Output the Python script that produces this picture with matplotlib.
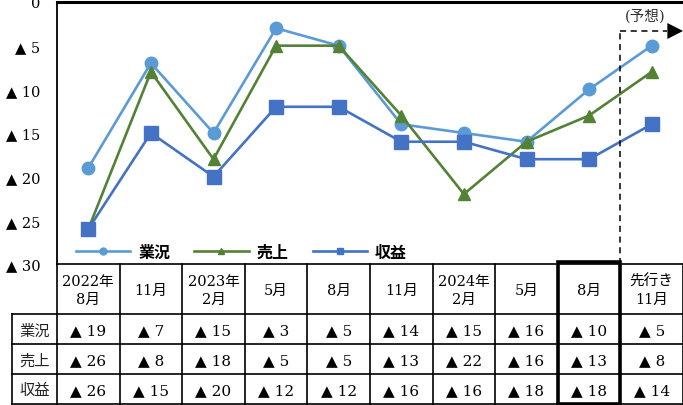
import numpy as np
import matplotlib
matplotlib.use('Agg')
import matplotlib.pyplot as plt
from matplotlib.lines import Line2D

# data
periods = ['2022年\n8月', '11月', '2023年\n2月', '5月', '8月', '11月',
           '2024年\n2月', '5月', '8月', '先行き\n11月']
series_names = ['業況', '売上', '収益']
gyokyo = [19, 7, 15, 3, 5, 14, 15, 16, 10, 5]
uriage = [26, 8, 18, 5, 5, 13, 22, 16, 13, 8]
shueki = [26, 15, 20, 12, 12, 16, 16, 18, 18, 14]
yticks = [0, 5, 10, 15, 20, 25, 30]

colors = ['#5B9BD5', '#548235', '#4472C4']
markers = ['o', '^', 's']
serif = ['DejaVu Serif', 'Noto Sans CJK JP']
sans = ['Noto Sans CJK JP', 'DejaVu Sans']

W, H = 683, 406
fig = plt.figure(figsize=(W / 100, H / 100), dpi=100)

# chart area in pixels
x0, x1, ytop, ybot = 57, 683, 3, 265
ax = fig.add_axes([x0 / W, 1 - ybot / H, (x1 - x0) / W, (ybot - ytop) / H])
x = np.arange(len(periods))
all_series = [gyokyo, uriage, shueki]
for vals, c, m in zip(all_series, colors, markers):
    ax.plot(x, vals, color=c, lw=1.9, marker=m, ms=9 if m != 's' else 9.5,
            zorder=3, clip_on=False)
ax.set_xlim(-0.5, len(periods) - 0.5)
ax.set_ylim(30, 0)
ax.set_yticks(yticks)
ax.set_yticklabels(['0' if v == 0 else '▲ %d' % v for v in yticks],
                   family=serif, fontsize=10.5)
ax.tick_params(axis='y', length=0, pad=12)
ax.set_xticks([])
ax.spines['top'].set_linewidth(2.2)
ax.spines['left'].set_linewidth(1.3)
ax.spines['right'].set_visible(False)
ax.spines['bottom'].set_visible(False)

handles = [Line2D([], [], color=c, lw=1.9, marker=m, ms=5)
           for c, m in zip(colors, markers)]
ax.legend(handles, series_names, loc='center left', ncol=3,
          bbox_to_anchor=(76 / W, 1 - 253 / H), bbox_transform=fig.transFigure,
          frameon=False, borderpad=0, borderaxespad=0, handlelength=3.4,
          handletextpad=0.5, columnspacing=1.5,
          prop={'family': sans, 'size': 11.5, 'weight': 'bold'})

# overlay for table, x in category index, y in pixels
unit = (x1 - x0) / len(periods)
tab = fig.add_axes([0, 0, 1, 1], zorder=5)
tab.set_xlim(-0.5 - x0 / unit, -0.5 + (W - x0) / unit)
tab.set_ylim(H, 0)
tab.axis('off')
tab.patch.set_alpha(0)

n = len(periods)
lab_left = -0.5 - (x0 - 12) / unit
rows_y = [265, 315, 345, 375, 405]
lw = 1.2
# horizontal lines
tab.plot([-0.5, n - 0.5], [rows_y[0]] * 2, color='black', lw=lw)
for yy in rows_y[1:]:
    tab.plot([lab_left, n - 0.5], [yy] * 2, color='black', lw=lw)
# vertical lines
for i in range(n + 1):
    tab.plot([i - 0.5] * 2, [rows_y[0], rows_y[-1]], color='black', lw=lw)
tab.plot([lab_left] * 2, [rows_y[1], rows_y[-1]], color='black', lw=lw)

# header text
for i, p in enumerate(periods):
    tab.text(i, (rows_y[0] + rows_y[1]) / 2 + 1, p, ha='center', va='center',
             family=serif, fontsize=10.5, linespacing=1.4)
# rows
for r, (name, vals) in enumerate(zip(series_names, all_series)):
    yc = (rows_y[r + 1] + rows_y[r + 2]) / 2 + 1
    tab.text((lab_left - 0.5) / 2, yc, name, ha='center', va='center',
             family=sans, fontsize=11, color='#222222')
    for i, v in enumerate(vals):
        tab.text(i, yc, '▲ %d' % v, ha='center', va='center',
                 family=serif, fontsize=11)

# thick box for latest actual (8月)
k = n - 2
tab.plot([k - 0.5, k - 0.5, k + 0.5, k + 0.5, k - 0.5],
         [rows_y[-1], rows_y[0] - 2, rows_y[0] - 2, rows_y[-1], rows_y[-1]],
         color='black', lw=2.6, solid_joinstyle='miter')

# forecast marker
xf = n - 1.5
tab.plot([xf, xf], [rows_y[0], 32], color='black', lw=1.1, ls=(0, (4, 3)))
tab.plot([xf, n - 0.75], [32, 32], color='black', lw=1.1, ls=(0, (4, 3)))
tab.fill([n - 0.75, n - 0.5, n - 0.75], [24, 32, 40], color='black', lw=0)
tab.text(n - 1.1, 16, '(予想)', ha='center', va='center', family=serif, fontsize=10.5,
         color='#333333')

fig.savefig('out.png', dpi=100)
